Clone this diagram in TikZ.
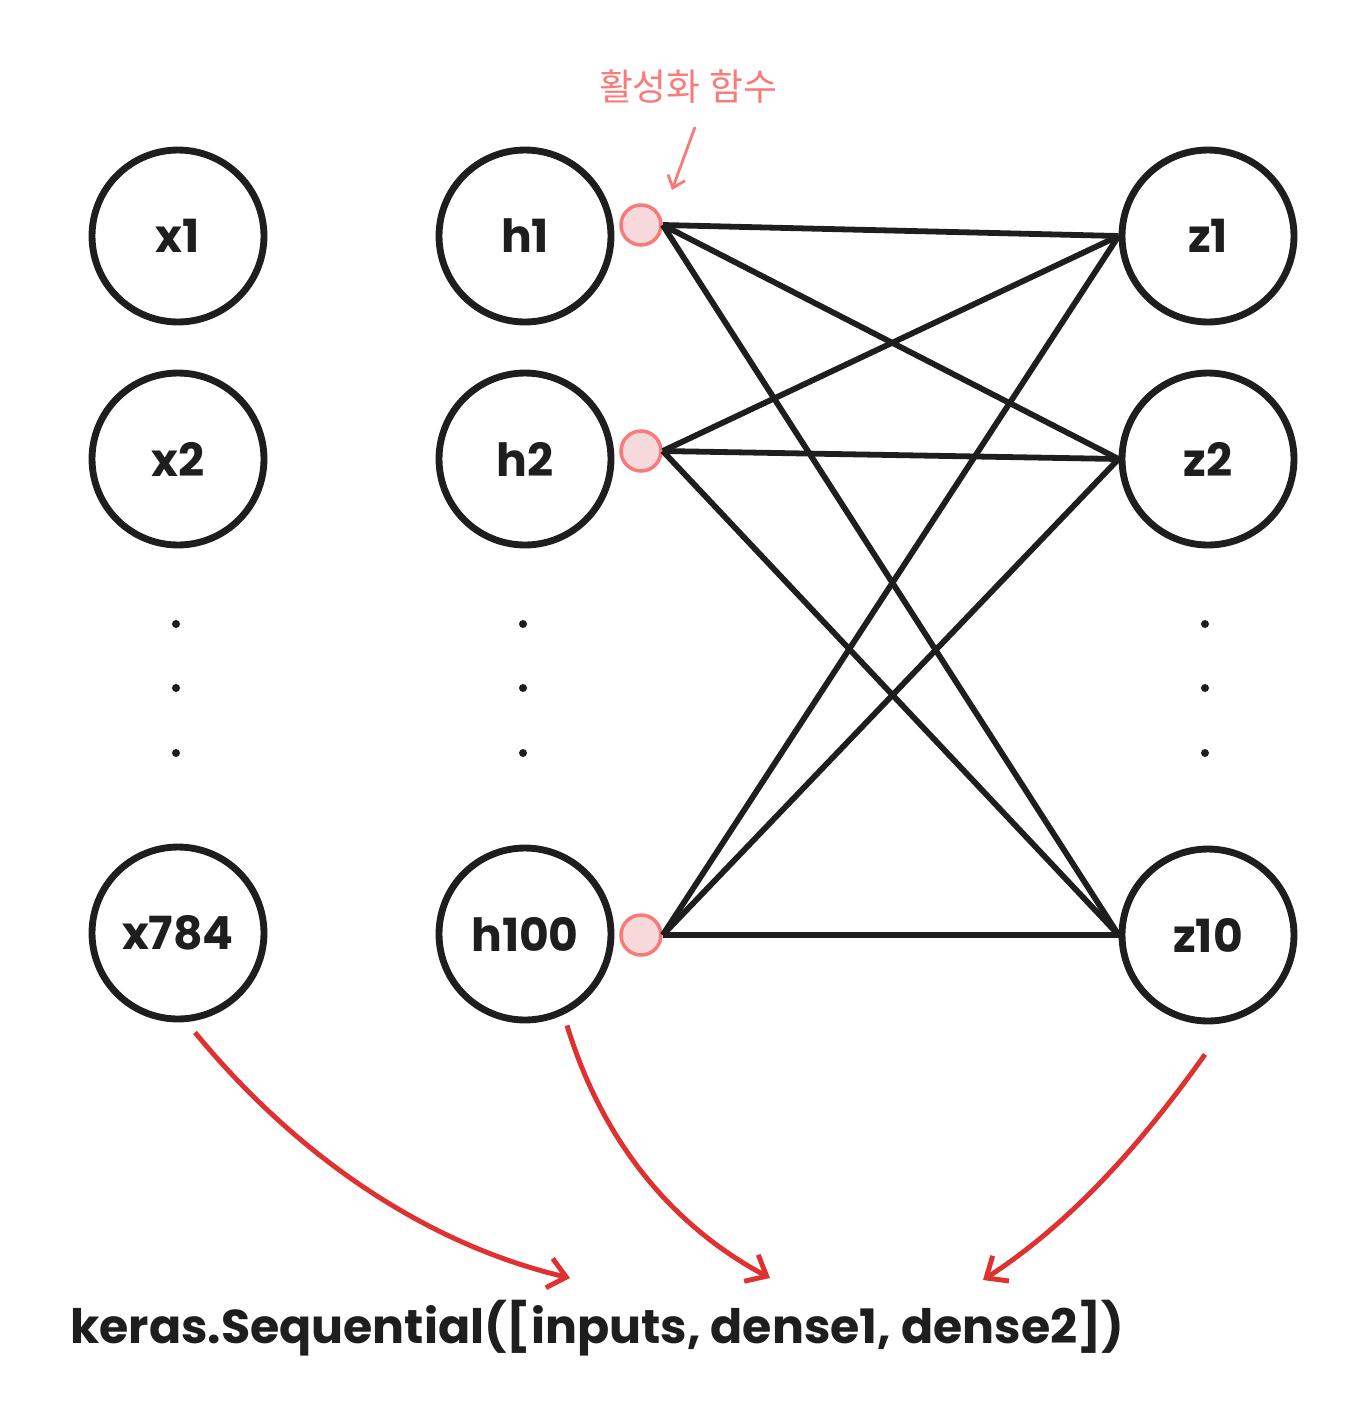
\documentclass[tikz,border=0pt]{standalone}
\usepackage{fontspec}
\setmainfont{Poppins}
\newfontfamily\krfont{Noto Sans CJK KR}
\usepackage{xcolor}
\usetikzlibrary{arrows.meta,positioning}
\definecolor{ink}{HTML}{1E1E1E}
\definecolor{actred}{HTML}{FA7A7A}
\definecolor{actfill}{HTML}{F7D9DC}
\definecolor{seqred}{HTML}{E03131}

\begin{document}
\begin{tikzpicture}[x=0.02cm,y=-0.02cm,
  neuron/.style={draw=ink,circle,line width=3.9pt,minimum size=3.44cm,
                 inner sep=0pt,text=ink,font=\bfseries\fontsize{26}{30}\selectfont},
  actdot/.style={draw=actred,fill=actfill,circle,line width=2pt,
                 minimum size=0.8cm,inner sep=0pt},
  vdot/.style={circle,fill=ink,minimum size=0.16cm,inner sep=0pt},
  wire/.style={draw=ink,line width=3.3pt},
  seq/.style={draw=seqred,line width=2.8pt,
              -{Straight Barb[length=0.35cm,width=0.6cm]}}]
  \useasboundingbox (0,0) rectangle (1358,1424);
  % input layer
  \node[neuron] (x1) at (178,236) {x1};
  \node[neuron] (x2) at (178,459) {x2};
  \node[neuron] (x784) at (178,933) {x784};
  \node[vdot] (xd1) at (176,624) {};
  \node[vdot] (xd2) at (176,688) {};
  \node[vdot] (xd3) at (176,753) {};
  % hidden layer
  \node[neuron] (h1) at (525,236) {h1};
  \node[neuron] (h2) at (525,459) {h2};
  \node[neuron] (h100) at (525,934) {h100};
  \node[vdot] (hd1) at (523,624) {};
  \node[vdot] (hd2) at (523,688) {};
  \node[vdot] (hd3) at (523,753) {};
  \node[actdot] (a1) at (641,225) {};
  \node[actdot] (a2) at (641,451) {};
  \node[actdot] (a3) at (641,935) {};
  % output layer
  \node[neuron] (z1) at (1208,236) {z1};
  \node[neuron] (z2) at (1208,459) {z2};
  \node[neuron] (z10) at (1208,935) {z10};
  \node[vdot] (zd1) at (1205,624) {};
  \node[vdot] (zd2) at (1205,688) {};
  \node[vdot] (zd3) at (1205,753) {};
  \draw[wire] (a1.east) -- (z1.west);
  \draw[wire] (a1.east) -- (z2.west);
  \draw[wire] (a1.east) -- (z10.west);
  \draw[wire] (a2.east) -- (z1.west);
  \draw[wire] (a2.east) -- (z2.west);
  \draw[wire] (a2.east) -- (z10.west);
  \draw[wire] (a3.east) -- (z1.west);
  \draw[wire] (a3.east) -- (z2.west);
  \draw[wire] (a3.east) -- (z10.west);
  % activation label
  \node[text=actred,font=\krfont\fontsize{21}{25}\selectfont] (actlabel) at (688,87) {활성화 함수};
  \coordinate (acttip) at (672,190);
  \draw[actred,line width=1.6pt,-{Straight Barb[length=0.22cm,width=0.36cm]}]
    ([shift={(7,17)}]actlabel.south) -- (acttip);
  % model code
  \node[anchor=west,text=ink,font=\bfseries\fontsize{27}{32}\selectfont] (seqcode) at (64,1328)
    {keras.Sequential([inputs, dense1, dense2])};
  \coordinate (in1) at (570,1278);
  \coordinate (in2) at (770,1278);
  \coordinate (in3) at (983,1280);
  \draw[seq] ([shift={(17,10)}]x784.south) .. controls (300,1160) and (430,1245) .. (in1);
  \draw[seq] ([shift={(42,2)}]h100.south) .. controls (605,1150) and (680,1230) .. (in2);
  \draw[seq] ([shift={(-3,30)}]z10.south) .. controls (1130,1160) and (1060,1230) .. (in3);
\end{tikzpicture}
\end{document}
